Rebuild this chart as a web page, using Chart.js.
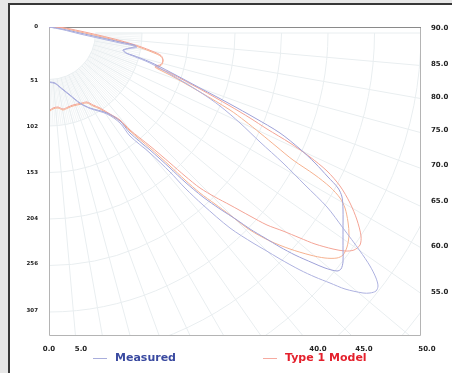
<!DOCTYPE html>
<html>
<head>
<meta charset="utf-8">
<script src="https://cdn.jsdelivr.net/npm/chart.js@4.4.1/dist/chart.umd.min.js"></script>
<style>
  html, body { margin:0; padding:0; }
  body { width:452px; height:373px; background:#e7e7e7; position:relative; overflow:hidden; font-family:"DejaVu Sans", Verdana, sans-serif; }
  #panel { position:absolute; left:8px; top:3px; width:480px; height:400px; background:#fff; border-left:2px solid #383838; border-top:2px solid #383838; }
  #c { position:absolute; left:0; top:0; }
  .lg { position:absolute; font-weight:bold; font-size:11px; line-height:12px; white-space:nowrap; }
  .lgline { position:absolute; height:1px; }
</style>
</head>
<body>
<div id="panel"></div>
<canvas id="c" width="452" height="373"></canvas>
<div id="legend"></div>
<script>
// ---- data (plot units: x to the right, y downward from the top-left corner) ----
const seriesNames = ['Measured', 'Type 1 Model'];

const measuredOuter = [[0,0],[13,2.5],[31,7],[51,11.5],[71,16],[88,20],[75,23],[78,26.5],[84,29],[101,36],[121,47],[151,65],[171,79],[191,96],[211,115],[234,136],[256,158],[278,180],[294,201],[311,224],[321,239],[327,251],[329,259],[327,264],[321,266],[314,266],[296,262],[281,256],[266,250],[251,243],[231,232],[216,223],[204,216],[181,201],[154,178],[136,161],[121,145],[101,126],[81,109],[71,96],[58,87],[41,81.5],[31,76.5],[21,68.5],[11,60.5],[6,56.5],[1,55.5]];

const measuredInner = [[0,0],[13,2],[31,6],[51,10.5],[71,15],[87,19],[74,23],[77,26],[83,28],[101,35],[121,45],[151,61],[181,77],[206,91],[231,106],[251,122],[266,136],[279,150],[289,161],[293,170],[294,183],[294,203],[294,223],[294,235],[292,242],[288,244],[276,241],[264,236],[246,228],[231,220],[216,211],[201,202],[188,193],[171,182],[154,170],[136,155],[121,141],[101,123],[81,106],[71,94],[58,86],[41,81],[31,76],[21,68],[11,60],[6,56],[1,55]];

const modelOuter = [[0,0],[13,0.5],[31,4],[51,8.5],[71,13.5],[91,19.5],[104,24.5],[112,28.5],[114,33],[112,37.5],[106,39],[109,41],[121,46],[151,62],[181,79],[201,91],[218,102],[241,116],[261,130],[278,144],[291,159],[301,176],[308,193],[312,209],[311,218],[305,223],[296,224],[284,222],[266,217],[251,211],[234,204],[218,198],[201,189],[181,178],[166,170],[151,161],[136,149],[121,136],[101,119],[81,103],[71,93],[61,87],[51,81],[44,78],[38,75],[33,76],[24,78],[19,80],[14,82],[9,80],[4,81],[1,83]];

const modelInner = [[0,0],[13,1],[31,5],[51,9.5],[71,14.5],[91,20.5],[104,25.5],[112,29.5],[114,34],[112,38.5],[106,40],[109,42],[121,48],[151,65],[181,83],[196,94],[211,106],[228,120],[244,133],[266,148],[281,160],[291,171],[296,181],[299,195],[300,208],[298,220],[294,228],[288,231],[276,231],[261,228],[241,222],[221,214],[201,203],[181,188],[166,177],[151,166],[136,153],[121,139],[101,121],[81,104],[71,94],[61,88],[51,82],[44,79],[38,76],[33,77],[24,79],[19,81],[14,83],[9,81],[4,82],[1,84]];

// ---- axes ----
const xRange = [0, 372];
const yRange = [0, 308];
const xTickPos = [0, 32, 269, 315, 378];
const xTickLabels = ['0.0', '5.0', '40.0', '45.0', '50.0'];
const yLeftTickPos = [0, 54, 100, 146, 192, 237, 284];
const yLeftTickLabels = ['0', '51', '102', '153', '204', '256', '307'];
const yRightTickPos = [1, 37, 70, 103, 138.5, 174, 219, 265];
const yRightTickLabels = ['90.0', '85.0', '80.0', '75.0', '70.0', '65.0', '60.0', '55.0'];

// polar grid (centre, ring step)
const gridCenter = [0, 6];
const ringStep = 46.5;
const ringCount = 12;

const toPts = arr => arr.map(p => ({x: p[0], y: p[1]}));

const polarGrid = {
  id: 'polarGrid',
  beforeDatasetsDraw(chart) {
    const {ctx, chartArea: a, scales: {x, y}} = chart;
    const cx = x.getPixelForValue(gridCenter[0]);
    const cy = y.getPixelForValue(gridCenter[1]);
    const k = Math.abs(x.getPixelForValue(100) - x.getPixelForValue(0)) / 100;
    ctx.save();
    ctx.beginPath(); ctx.rect(a.left, a.top, a.width, a.height); ctx.clip();
    ctx.lineWidth = 1;
    const r1 = ringStep * k, r2 = 2 * ringStep * k, rMax = ringStep * (ringCount + 1) * k;
    ctx.strokeStyle = '#f2f5f6';
    for (let d = 0; d <= 90; d += 1.25) {
      const t = d * Math.PI / 180;
      ctx.beginPath();
      ctx.moveTo(cx + r1 * Math.cos(t), cy + r1 * Math.sin(t));
      ctx.lineTo(cx + r2 * Math.cos(t), cy + r2 * Math.sin(t));
      ctx.stroke();
    }
    ctx.strokeStyle = '#e9eef0';
    for (let d = 0; d <= 90; d += 5) {
      const t = d * Math.PI / 180;
      ctx.beginPath();
      ctx.moveTo(cx + r1 * Math.cos(t), cy + r1 * Math.sin(t));
      ctx.lineTo(cx + rMax * Math.cos(t), cy + rMax * Math.sin(t));
      ctx.stroke();
    }
    for (let i = 1; i <= ringCount; i++) {
      ctx.beginPath();
      ctx.arc(cx, cy, ringStep * i * k, 0, Math.PI / 2);
      ctx.stroke();
    }
    ctx.restore();
    // plot frame
    ctx.save();
    ctx.lineWidth = 1;
    ctx.strokeStyle = '#b4b4b4';
    ctx.beginPath();
    ctx.moveTo(a.left + 0.5, a.top); ctx.lineTo(a.left + 0.5, a.bottom + 0.5);
    ctx.lineTo(a.right - 0.5, a.bottom + 0.5); ctx.lineTo(a.right - 0.5, a.top);
    ctx.stroke();
    ctx.strokeStyle = '#8a8a8a';
    ctx.beginPath(); ctx.moveTo(a.left, a.top + 0.5); ctx.lineTo(a.right, a.top + 0.5); ctx.stroke();
    ctx.restore();
  }
};

const tickFont = {family: 'DejaVu Sans', weight: 'bold', size: 7};

new Chart(document.getElementById('c'), {
  type: 'scatter',
  data: {
    datasets: [
      {label: seriesNames[0], data: toPts(measuredOuter), borderColor: '#aeb2e0'},
      {label: seriesNames[0], data: toPts(measuredInner), borderColor: '#9ea1d8'},
      {label: seriesNames[1], data: toPts(modelOuter), borderColor: '#f4a496'},
      {label: seriesNames[1], data: toPts(modelInner), borderColor: '#f6b290'}
    ].map(d => Object.assign(d, {showLine: true, borderWidth: 1, pointRadius: 0, tension: 0.3, fill: false}))
  },
  options: {
    responsive: false,
    animation: false,
    devicePixelRatio: 1,
    layout: {padding: {top: 27, left: 0, right: 0, bottom: 0}},
    plugins: {legend: {display: false}, tooltip: {enabled: false}},
    scales: {
      x: {
        type: 'linear', position: 'bottom', min: xRange[0], max: xRange[1],
        grid: {display: false}, border: {display: false},
        afterBuildTicks: s => { s.ticks = xTickPos.map(v => ({value: v})); },
        afterFit: s => { s.height = 38; },
        ticks: {autoSkip: false, maxRotation: 0, padding: 2, color: '#222', font: tickFont,
                callback: (v, i) => xTickLabels[i]}
      },
      y: {
        type: 'linear', position: 'left', reverse: true, min: yRange[0], max: yRange[1],
        grid: {display: false}, border: {display: false},
        afterBuildTicks: s => { s.ticks = yLeftTickPos.map(v => ({value: v})); },
        afterFit: s => { s.width = 49; },
        ticks: {autoSkip: false, padding: 3, color: '#222', font: {family: 'DejaVu Sans', weight: 'bold', size: 5.5},
                callback: (v, i) => yLeftTickLabels[i]}
      },
      y2: {
        type: 'linear', position: 'right', reverse: true, min: yRange[0], max: yRange[1],
        grid: {display: false}, border: {display: false},
        afterBuildTicks: s => { s.ticks = yRightTickPos.map(v => ({value: v})); },
        afterFit: s => { s.width = 31; },
        ticks: {autoSkip: false, padding: 2, color: '#222', font: tickFont,
                callback: (v, i) => yRightTickLabels[i]}
      }
    }
  },
  plugins: [polarGrid]
});

// legend (HTML text)
const legendItems = [
  {name: seriesNames[0], line: '#a9aedc', text: '#3a4aa0', lineLeft: 93, textLeft: 115},
  {name: seriesNames[1], line: '#f6aaa0', text: '#e4202c', lineLeft: 263, textLeft: 285}
];
const lg = document.getElementById('legend');
legendItems.forEach(it => {
  const l = document.createElement('div');
  l.className = 'lgline';
  l.style.cssText = `left:${it.lineLeft}px;top:358px;width:14px;background:${it.line};`;
  lg.appendChild(l);
  const t = document.createElement('div');
  t.className = 'lg';
  t.style.cssText = `left:${it.textLeft}px;top:352px;color:${it.text};`;
  t.textContent = it.name;
  lg.appendChild(t);
});
</script>
</body>
</html>
